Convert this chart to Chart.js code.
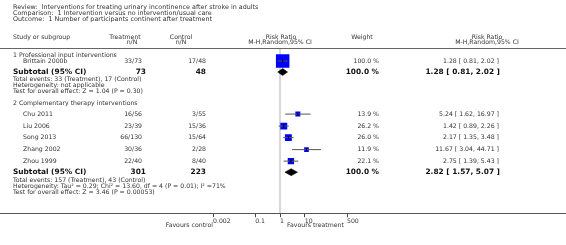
<!DOCTYPE html>
<html><head><meta charset="utf-8">
<script src="https://cdn.jsdelivr.net/npm/chart.js@4"></script>
<style>html,body{margin:0;padding:0;background:#fff}#wrap{width:566px;height:245px;position:relative}</style>
</head><body><div id="wrap"><canvas id="c"></canvas></div>
<script>
// ---- data ----
const titleLines = ["Review:  Interventions for treating urinary incontinence after stroke in adults",
  "Comparison:  1 Intervention versus no intervention/usual care",
  "Outcome:  1 Number of participants continent after treatment"];
const groups = ["1 Professional input interventions", "2 Complementary therapy interventions"];
const studies = ["Brittain 2000b", "Chu 2011", "Liu 2006", "Song 2013", "Zhang 2002", "Zhou 1999"];
const treatmentNN = ["33/73", "16/56", "23/39", "66/130", "30/36", "22/40"];
const controlNN = ["17/48", "3/55", "15/36", "15/64", "2/28", "8/40"];
const weights = [100.0, 13.9, 26.2, 26.0, 11.9, 22.1];
const riskRatio = [1.28, 5.24, 1.42, 2.17, 11.67, 2.75];
const ciLow = [0.81, 1.62, 0.89, 1.35, 3.04, 1.39];
const ciHigh = [2.02, 16.97, 2.26, 3.48, 44.71, 5.43];
const subTreatTotal = [73, 301];
const subCtrlTotal = [48, 223];
const subWeight = [100.0, 100.0];
const subRR = [1.28, 2.82];
const subLow = [0.81, 1.57];
const subHigh = [2.02, 5.07];
const totalEvents = ["Total events: 33 (Treatment), 17 (Control)", "Total events: 157 (Treatment), 43 (Control)"];
const heterogeneity = ["Heterogeneity: not applicable", "Heterogeneity: Tau\u00B2 = 0.29; Chi\u00B2 = 13.60, df = 4 (P = 0.01); I\u00B2 =71%"];
const overallEffect = ["Test for overall effect: Z = 1.04 (P = 0.30)", "Test for overall effect: Z = 3.46 (P = 0.00053)"];
const tickValues = [0.002, 0.1, 1, 10, 500];
const tickLabels = ["0.002", "0.1", "1", "10", "500"];
const favours = ["Favours control", "Favours treatment"];

// ---- layout (row positions in y-scale units) ----
const studyRowY = [61, 114, 126, 137.5, 149.5, 161];
const subRowY = [72, 172];
const groupRowY = [55, 103.5];
const eventsRowY = [79.5, 180];
const hetRowY = [85.5, 186];
const testRowY = [91.5, 192];
const axisY = 214;
const headLineY = 47.5;

const FONT = '"DejaVu Sans", Verdana, sans-serif';
const fmt = (r, l, h) => r.toFixed(2) + ' [ ' + l.toFixed(2) + ', ' + h.toFixed(2) + ' ]';

const datasets = [];
// center marks (top)
datasets.push({type: 'scatter', data: riskRatio.map((r, i) => ({x: r, y: studyRowY[i]})),
  pointStyle: 'line', rotation: 90, pointRadius: 1.5, borderColor: '#000', borderWidth: 1, order: 0});
// CI lines
studies.forEach((s, i) => datasets.push({type: 'line', data: [{x: ciLow[i], y: studyRowY[i]}, {x: ciHigh[i], y: studyRowY[i]}],
  borderColor: '#555', borderWidth: 1, pointRadius: 0, fill: false, order: 1}));
// squares
datasets.push({type: 'scatter', data: riskRatio.map((r, i) => ({x: r, y: studyRowY[i]})),
  pointStyle: 'rect', pointRadius: weights.map(w => Math.max(4, 13.5 * Math.sqrt(w / 100)) / 1.4142),
  backgroundColor: '#0000ff', borderWidth: 0, order: 2});
// diamonds
subRR.forEach((r, i) => datasets.push({type: 'line', data: [
  {x: subLow[i], y: subRowY[i]}, {x: r, y: subRowY[i] - 3.5}, {x: subHigh[i], y: subRowY[i]},
  {x: r, y: subRowY[i] + 3.5}, {x: subLow[i], y: subRowY[i]}],
  borderColor: '#000', borderWidth: 0.5, backgroundColor: '#000', fill: 'shape', pointRadius: 0, tension: 0, order: 3}));
// line of no effect
datasets.push({type: 'line', data: [{x: 1, y: headLineY + 1}, {x: 1, y: axisY}],
  borderColor: '#cfcfcf', borderWidth: 1.6, pointRadius: 0, fill: false, order: 4});

const textPlugin = {
  id: 'forestText',
  afterDraw(chart) {
    const ctx = chart.ctx, ys = chart.scales.y;
    const Y = v => ys.getPixelForValue(v);
    const W = chart.width;
    ctx.save();
    // rules
    ctx.strokeStyle = '#666'; ctx.lineWidth = 1.2;
    ctx.beginPath(); ctx.moveTo(0, Math.round(Y(headLineY)) + 0.5); ctx.lineTo(W, Math.round(Y(headLineY)) + 0.5); ctx.stroke();
    ctx.strokeStyle = '#555'; ctx.lineWidth = 1;
    ctx.beginPath(); ctx.moveTo(0, Math.round(Y(axisY)) - 0.5); ctx.lineTo(W, Math.round(Y(axisY)) - 0.5); ctx.stroke();
    ctx.textBaseline = 'middle';
    const t = (s, x, y, align, size, bold, color) => {
      ctx.font = (bold ? 'bold ' : '') + size + 'px ' + FONT;
      ctx.fillStyle = color || '#333';
      ctx.textAlign = align; ctx.fillText(s, x, Y(y));
    };
    const S = 6.2, B = 7.4;
    titleLines.forEach((s, i) => t(s, 13, 7 + i * 6, 'left', 6.4));
    t('Study or subgroup', 13, 37.5, 'left', S);
    t('Treatment', 125, 37.5, 'center', S); t('n/N', 132, 42.5, 'center', S);
    t('Control', 181, 37.5, 'center', S); t('n/N', 181, 42.5, 'center', S);
    t('Risk Ratio', 281, 37.5, 'center', S); t('M-H,Random,95% CI', 280, 42.5, 'center', S);
    t('Weight', 362, 37.5, 'center', S);
    t('Risk Ratio', 487, 37.5, 'center', S); t('M-H,Random,95% CI', 487, 42.5, 'center', S);
    groups.forEach((g, i) => t(g, 13, groupRowY[i], 'left', S));
    studies.forEach((s, i) => {
      const y = studyRowY[i];
      t(s, 23, y, 'left', S);
      t(treatmentNN[i], 142, y, 'right', S);
      t(controlNN[i], 206, y, 'right', S);
      t(weights[i].toFixed(1) + ' %', 379, y, 'right', S);
      t(fmt(riskRatio[i], ciLow[i], ciHigh[i]), 499, y, 'right', S);
    });
    subRR.forEach((r, i) => {
      const y = subRowY[i];
      t('Subtotal (95% CI)', 13, y, 'left', B, true, '#111');
      t(String(subTreatTotal[i]), 146, y, 'right', B, true, '#111');
      t(String(subCtrlTotal[i]), 206, y, 'right', B, true, '#111');
      t(subWeight[i].toFixed(1) + ' %', 379, y, 'right', B, true, '#111');
      t(fmt(r, subLow[i], subHigh[i]), 500, y, 'right', B, true, '#111');
      t(totalEvents[i], 13, eventsRowY[i], 'left', S);
      t(heterogeneity[i], 13, hetRowY[i], 'left', S);
      t(overallEffect[i], 13, testRowY[i], 'left', S);
    });
    const xs = chart.scales.x;
    t(favours[0], xs.getPixelForValue(tickValues[0]), 225.5, 'right', S);
    t(favours[1], 287, 225.5, 'left', S);
    ctx.restore();
  }
};

new Chart(document.getElementById('c'), {
  type: 'scatter',
  data: {datasets},
  options: {
    responsive: true, maintainAspectRatio: false, animation: false,
    layout: {autoPadding: false, padding: {left: 213, right: 219, top: 0, bottom: 18.4}},
    plugins: {legend: {display: false}, tooltip: {enabled: false}},
    scales: {
      x: {type: 'logarithmic', min: tickValues[0], max: tickValues[tickValues.length - 1], position: 'bottom',
        afterBuildTicks: s => { s.ticks = tickValues.map(v => ({value: v})); },
        ticks: {callback: (v, i) => tickLabels[i], align: 'start', autoSkip: false, maxRotation: 0, minRotation: 0,
          padding: 1, color: '#333', font: {family: FONT, size: 6.2}},
        grid: {display: true, drawOnChartArea: false, drawTicks: true, tickLength: 3, color: '#444'},
        border: {display: false}},
      y: {type: 'linear', min: 0, max: axisY, reverse: true, display: false}
    }
  },
  plugins: [textPlugin]
});
</script>
</body></html>
